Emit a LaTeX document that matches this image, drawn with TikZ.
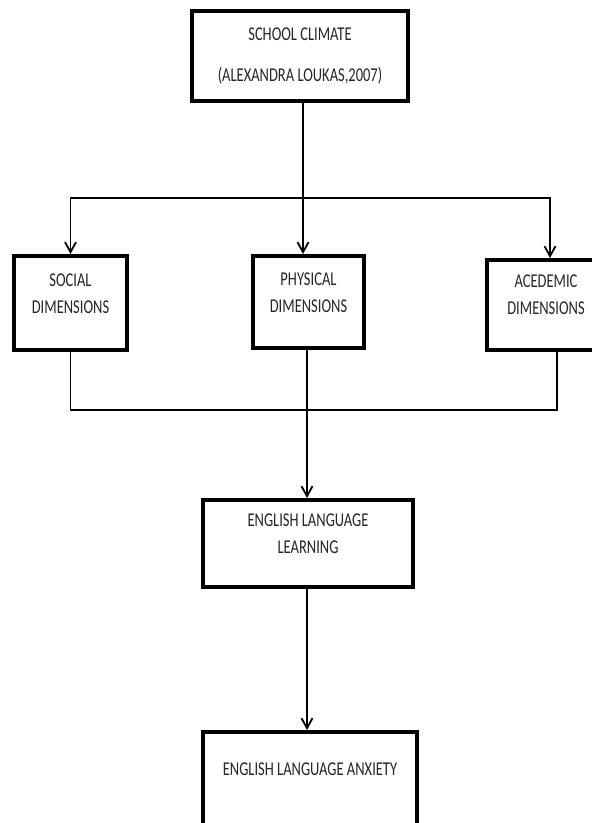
\documentclass[tikz,border=0pt]{standalone}
\usepackage{fontspec}
\setmainfont{Carlito}
\usepackage{tikz}
\usetikzlibrary{arrows.meta}

\newcommand{\tall}[1]{\scalebox{1}[1.35]{#1}}

\begin{document}
\begin{tikzpicture}[x=1pt, y=-1pt, >={Straight Barb[length=10pt,width=11pt]},
  box/.style={draw, line width=4pt, align=center, inner sep=0pt,
    font=\fontsize{14.5pt}{27pt}\selectfont, text=black!85},
  link/.style={line width=1.8pt}]
 \useasboundingbox (0,0) rectangle (592,823);
 \clip (0,0) rectangle (592,823);
 \fill[white] (0,0) rectangle (592,823);

 % the boxes
 \node[box, minimum width=216pt, minimum height=90pt] (climate) at (300,56)
   {\tall{SCHOOL CLIMATE}\\[14pt]\tall{(ALEXANDRA LOUKAS,2007)}};
 \node[box, minimum width=113pt, minimum height=94pt] (social) at (70.5,303)
   {\tall{SOCIAL}\\\tall{DIMENSIONS}\\[-8pt]\mbox{}};
 \node[box, minimum width=111pt, minimum height=92pt] (physical) at (308.5,302)
   {\tall{PHYSICAL}\\\tall{DIMENSIONS}\\[-8pt]\mbox{}};
 \node[box, minimum width=118pt, minimum height=90pt] (academic) at (546,305)
   {\tall{ACEDEMIC}\\\tall{DIMENSIONS}\\[-6pt]\mbox{}};
 \node[box, minimum width=210pt, minimum height=87pt] (learning) at (308,543.5)
   {\tall{ENGLISH LANGUAGE}\\\tall{LEARNING}\\[-8pt]\mbox{}};
 \node[box, minimum width=214pt, text height=43pt, text depth=53pt] (anxiety) at (310,780)
   {\tall{ENGLISH LANGUAGE ANXIETY}};

 \coordinate (fork) at (303,198);
 \coordinate (join) at (307,410);

 % connectors
 \draw[link] (climate.south -| fork) -- (fork);
 \draw[link,->] (fork) -| (social.north);
 \draw[link,->] (fork) -| ([xshift=4pt]academic.north);
 \draw[link,->] (fork) -- (fork |- physical.north);
 \draw[link] (social.south) |- (join);
 \draw[link] (join) -| ([xshift=11pt]academic.south);
 \draw[link] (join |- physical.south) -- (join);
 \draw[link,->] (join) -- (join |- learning.north);
 \draw[link,->] (join |- learning.south) -- (join |- anxiety.north);
\end{tikzpicture}
\end{document}
